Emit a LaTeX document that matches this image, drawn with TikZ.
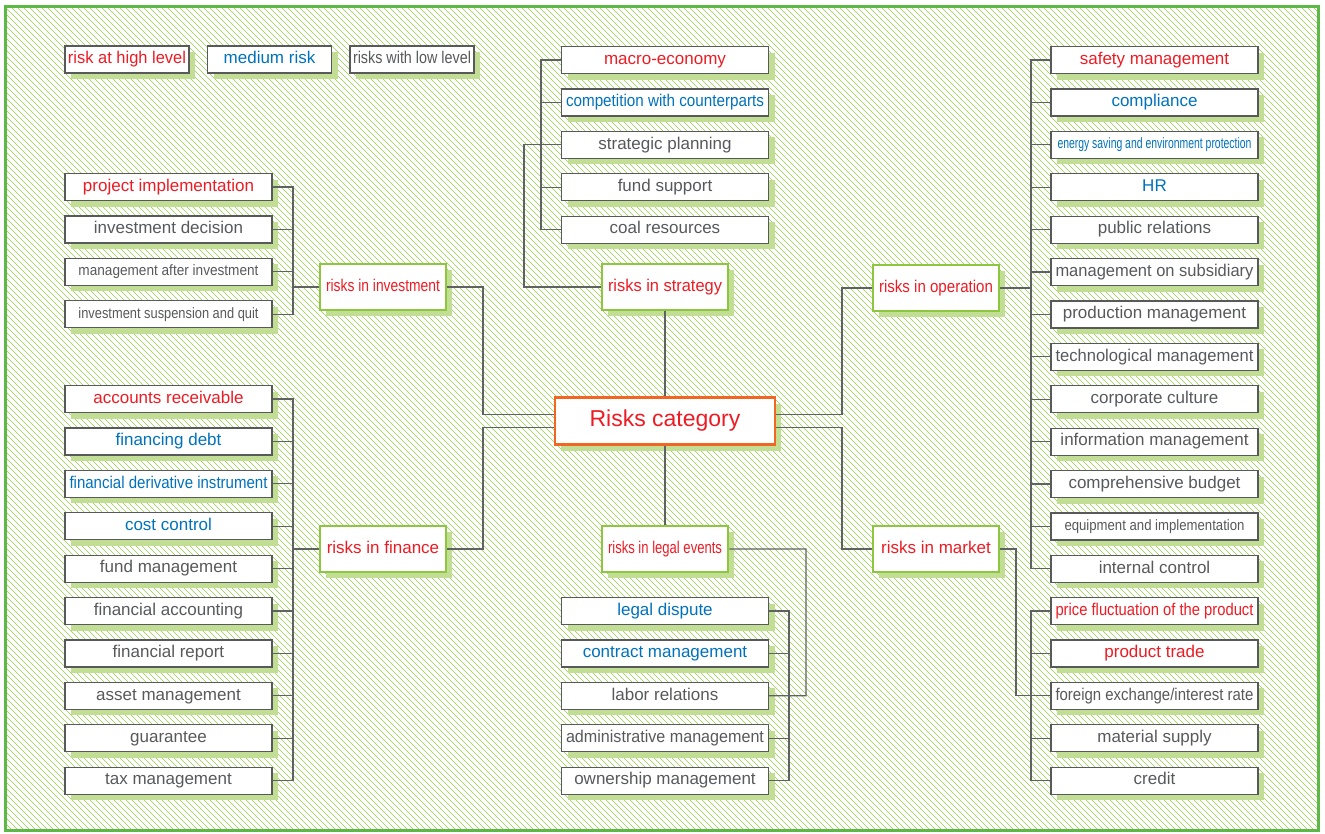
\documentclass[tikz,border=0pt]{standalone}
\usepackage{fontspec}
\setmainfont{Liberation Sans}

\definecolor{riskred}{RGB}{237,28,36}
\definecolor{midblue}{RGB}{0,114,188}
\definecolor{lowgray}{RGB}{88,89,91}
\definecolor{boxgray}{RGB}{88,89,91}
\definecolor{linegray}{RGB}{96,97,99}
\definecolor{catgreen}{RGB}{141,198,63}
\definecolor{rootorange}{RGB}{242,101,34}
\definecolor{shadegreen}{RGB}{194,221,148}
\definecolor{hatchgreen}{RGB}{150,203,80}
\definecolor{framegreen}{RGB}{93,185,70}

% squeeze a label sideways when it is wider than its box allows
\newsavebox\fitbox
\def\fitwidth{198pt}
\newcommand\fitw[1]{\sbox\fitbox{#1}%
  \ifdim\wd\fitbox>\fitwidth\relax\resizebox{\fitwidth}{\height}{#1}\else\usebox\fitbox\fi}

\tikzset{
  fitto/.code={\def\fitwidth{#1}},
  greenshadow/.style={preaction={draw=none,fill=shadegreen,transform canvas={xshift=6pt,yshift=-6pt}}},
  leaf/.style={draw=boxgray,line width=1.2pt,fill=white,minimum width=207pt,minimum height=27pt,
    inner sep=0pt,font=\fontsize{17}{20}\selectfont,text height=12pt,text depth=3.5pt,
    fitto=198pt,greenshadow},
  keybox/.style={leaf,minimum width=124pt,fitto=118pt},
  catbox/.style={draw=catgreen,line width=2.5pt,fill=white,minimum width=126pt,minimum height=46pt,
    inner sep=0pt,font=\fontsize{17}{20}\selectfont,text height=12pt,text depth=3.5pt,
    text=riskred,fitto=114pt,greenshadow},
  rootbox/.style={draw=rootorange,line width=2.5pt,fill=white,minimum width=220pt,minimum height=47pt,
    inner sep=0pt,font=\fontsize{23}{27}\selectfont,text height=16.5pt,text depth=4.8pt,
    text=riskred,greenshadow},
  hi/.style={text=riskred},
  mid/.style={text=midblue},
  lo/.style={text=lowgray},
  losmall/.style={lo,font=\fontsize{15}{18}\selectfont,text height=11pt,text depth=3pt,fitto=180pt},
  midsmall/.style={mid,font=\fontsize{15}{18}\selectfont,text height=11pt,text depth=3pt,fitto=194pt},
  link/.style={draw=linegray,line width=1.3pt}
}

\begin{document}
\begin{tikzpicture}[x=1pt,y=-1pt]
\useasboundingbox (0,0) rectangle (1325,833);
\fill[white] (0,0) rectangle (1325,833);
% hatched ground and frame
\begin{scope}
  \clip (5,6) rectangle (1318,830);
  \foreach \c in {-830,-824,...,1320}
    \draw[hatchgreen,line width=0.5pt] (\c,6) -- ++(824,824);
\end{scope}
\draw[framegreen,line width=3pt] (5,6) rectangle (1318,830);

% key
\node[keybox,hi] (keyhi) at (127,59.5) {\fitw{risk at high level}};
\node[keybox,mid] (keymid) at (269.5,59.5) {\fitw{medium risk}};
\node[keybox,lo] (keylo) at (412,59.5) {\fitw{risks with low level}};

% centre and categories
\node[rootbox] (rc) at (665,421) {Risks category};
\node[catbox] (inv) at (383,287) {\fitw{risks in investment}};
\node[catbox] (str) at (665,287) {\fitw{risks in strategy}};
\node[catbox] (op) at (936,288) {\fitw{risks in operation}};
\node[catbox] (fin) at (383,549) {\fitw{risks in finance}};
\node[catbox] (leg) at (665,549) {\fitw{risks in legal events}};
\node[catbox] (mkt) at (936,549) {\fitw{risks in market}};

% leaves
\foreach \lbl/\lvl [count=\i] in {project implementation/hi,investment decision/lo,
    management after investment/losmall,investment suspension and quit/losmall}
  \node[leaf,\lvl] (inv\i) at (168.5,{187+42.4*(\i-1)}) {\fitw{\lbl}};
\foreach \lbl/\lvl [count=\i] in {accounts receivable/hi,financing debt/mid,
    financial derivative instrument/mid,cost control/mid,fund management/lo,
    financial accounting/lo,financial report/lo,asset management/lo,guarantee/lo,tax management/lo}
  \node[leaf,\lvl] (fin\i) at (168.5,{399+42.4*(\i-1)}) {\fitw{\lbl}};
\foreach \lbl/\lvl [count=\i] in {macro-economy/hi,competition with counterparts/mid,
    strategic planning/lo,fund support/lo,coal resources/lo}
  \node[leaf,\lvl] (str\i) at (665,{60+42.4*(\i-1)}) {\fitw{\lbl}};
\foreach \lbl/\lvl [count=\i] in {legal dispute/mid,contract management/mid,
    labor relations/lo,administrative management/lo,ownership management/lo}
  \node[leaf,\lvl] (leg\i) at (665,{611+42.4*(\i-1)}) {\fitw{\lbl}};
\foreach \lbl/\lvl [count=\i] in {safety management/hi,compliance/mid,
    energy saving and environment protection/midsmall,HR/mid,public relations/lo,
    management on subsidiary/lo,production management/lo,technological management/lo,
    corporate culture/lo,information management/lo,comprehensive budget/lo,
    equipment and implementation/losmall,internal control/lo}
  \node[leaf,\lvl] (op\i) at (1154.5,{60+42.4*(\i-1)}) {\fitw{\lbl}};
\foreach \lbl/\lvl [count=\i] in {price fluctuation of the product/hi,product trade/hi,
    {foreign exchange/interest rate}/lo,material supply/lo,credit/lo}
  \node[leaf,\lvl] (mkt\i) at (1154.5,{611+42.4*(\i-1)}) {\fitw{\lbl}};

% trees
\coordinate (invbus) at (293,287);
\foreach \i in {1,...,4} \draw[link] (inv\i.east) -| (invbus);
\draw[link] (invbus) -- (inv.west);

\coordinate (finbus) at (293,549);
\foreach \i in {1,...,10} \draw[link] (fin\i.east) -| (finbus);
\draw[link] (finbus) -- (fin.west);

\coordinate (strbus) at (541,144.8);
\coordinate (strjoin) at (524,144.8);
\foreach \i in {1,...,5} \draw[link] (str\i.west) -| (strbus);
\draw[link] (strbus) -- (strjoin) |- (str.west);

\coordinate (legbus) at (789,695.8);
\coordinate (legjoin) at (806,695.8);
\foreach \i in {1,...,5} \draw[link] (leg\i.east) -| (legbus);
\draw[link] (leg.east) -| (legjoin) -- (leg3.east);

\coordinate (opbus) at (1031,288);
\foreach \i in {1,...,13} \draw[link] (opbus) |- (op\i.west);
\draw[link] (op.east) -- (opbus);

\coordinate (mktbus) at (1031,695.8);
\coordinate (mktjoin) at (1016,695.8);
\foreach \i in {1,...,5} \draw[link] (mktbus) |- (mkt\i.west);
\draw[link] (mkt.east) -| (mktjoin) -- (mktbus);

% categories to centre
\coordinate (lhub) at (483,421);
\coordinate (rhub) at (842,421);
\draw[link] (inv.east) -| ([yshift=6.5pt]lhub) -- ([yshift=6.5pt]rc.west);
\draw[link] (fin.east) -| ([yshift=-6.5pt]lhub) -- ([yshift=-6.5pt]rc.west);
\draw[link] (op.west) -| ([yshift=6.5pt]rhub) -- ([yshift=6.5pt]rc.east);
\draw[link] (mkt.west) -| ([yshift=-6.5pt]rhub) -- ([yshift=-6.5pt]rc.east);
\draw[link] (str.south) -- (rc.north);
\draw[link] (rc.south) -- (leg.north);
\end{tikzpicture}
\end{document}
